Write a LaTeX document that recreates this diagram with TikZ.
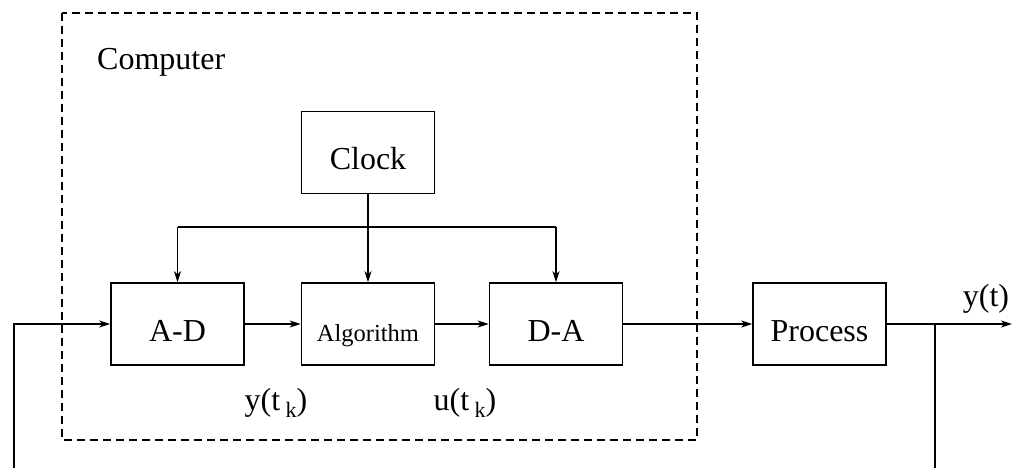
\documentclass[tikz,border=0pt]{standalone}
\usepackage{fontspec}
\setmainfont{Liberation Serif}
\usetikzlibrary{arrows.meta}
\begin{document}
\begin{tikzpicture}[x=1pt,y=-1pt,
  blk/.style={draw,line width=1.5pt,minimum width=133pt,minimum height=82pt,inner sep=0pt,text height=34pt,text depth=0pt,font=\fontsize{32}{32}\selectfont},
  wire/.style={line width=1.5pt},
  arr/.style={wire,-{Stealth[length=11pt,width=7pt,inset=3pt]}},
  lbl/.style={font=\fontsize{32}{32}\selectfont,inner sep=0pt}
]
\useasboundingbox (0,0) rectangle (1023,468);
\draw[line width=1.5pt,dash pattern=on 8pt off 5pt] (62,13) rectangle (697,440);
\node[lbl,anchor=base west] (comp) at (97,70) {Computer};
\node[blk] (clock) at (368,152.5) {Clock};
\node[blk] (ad) at (177.5,324) {A-D};
\node[blk,font=\fontsize{24.5}{24.5}\selectfont] (alg) at (368,324) {Algorithm};
\node[blk] (da) at (556,324) {D-A};
\node[blk] (proc) at (819.5,324) {Process};
\coordinate (bus) at (368,227);
\coordinate (fbL) at (14,468);
\coordinate (tap) at (935,324);
\coordinate (fbR) at (935,468);
\coordinate (out) at (1012,324);
\draw[arr] (clock.south) -- (alg.north);
\draw[wire] (bus -| ad.north) -- (bus -| da.north);
\draw[arr] (bus -| ad.north) -- (ad.north);
\draw[arr] (bus -| da.north) -- (da.north);
\draw[arr] (fbL) -- (fbL |- ad.west) -- (ad.west);
\draw[arr] (ad.east) -- (alg.west);
\draw[arr] (alg.east) -- (da.west);
\draw[arr] (da.east) -- (proc.west);
\draw[arr] (proc.east) -- (out);
\draw[wire] (tap) -- (fbR);
\node[lbl,anchor=base] (yt) at (986,306) {y(t)};
\node[lbl,anchor=base] (ytk) at (276,410) {y(t\,\raisebox{-7pt}{\fontsize{22}{22}\selectfont k})};
\node[lbl,anchor=base] (utk) at (465,410) {u(t\,\raisebox{-7pt}{\fontsize{22}{22}\selectfont k})};
\end{tikzpicture}
\end{document}
